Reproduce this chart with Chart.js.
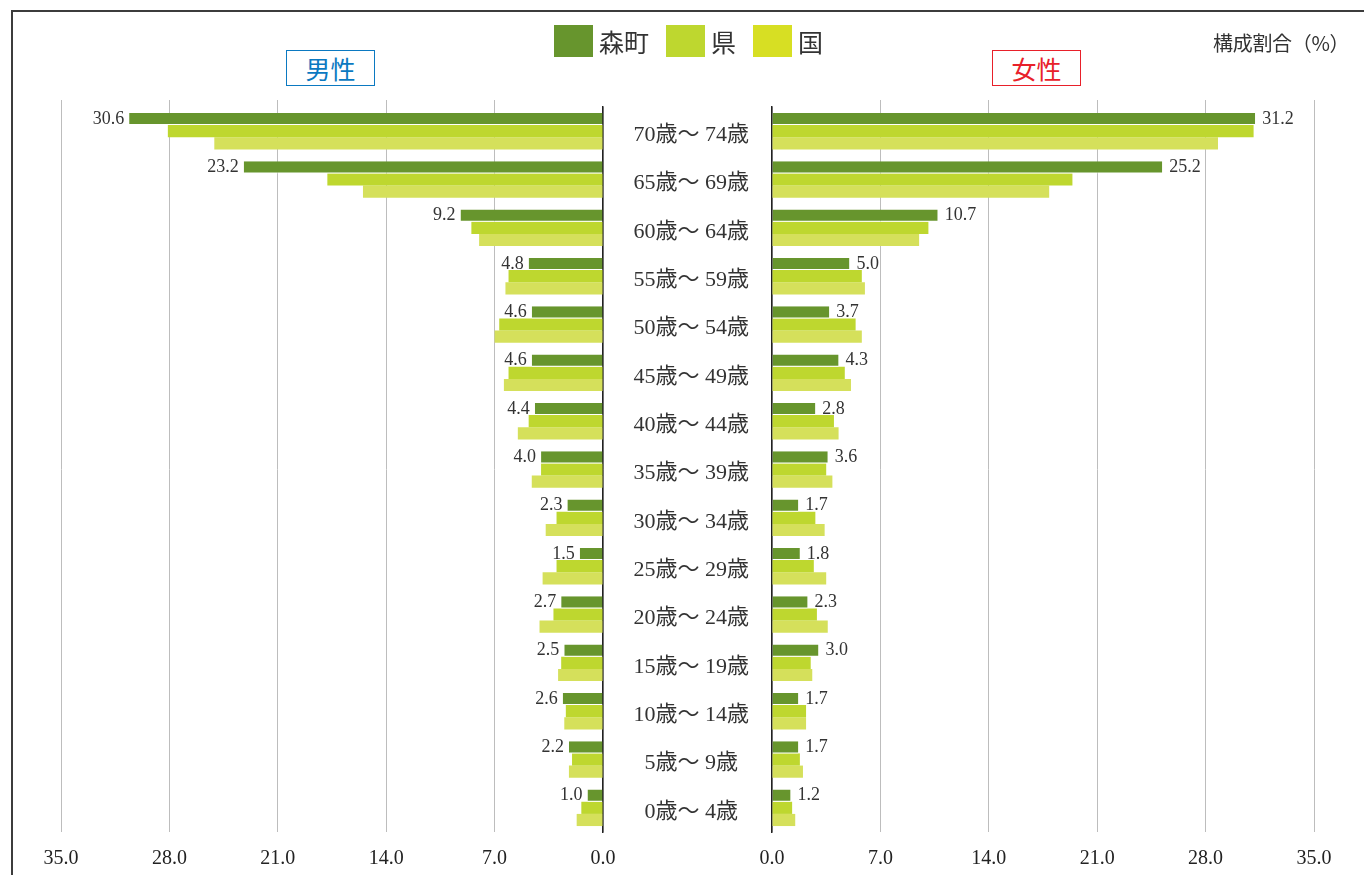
<!DOCTYPE html>
<html lang="ja">
<head>
<meta charset="UTF-8">
<title>年齢別構成割合</title>
<script src="https://cdn.jsdelivr.net/npm/chart.js"></script>
<style>
  body { margin: 0; background: #fff; }
  #page { position: relative; width: 1364px; height: 875px; overflow: hidden; font-family: 'Noto Sans CJK JP', sans-serif; color: #333; }
  #frame { position: absolute; left: 11px; top: 10px; right: -10px; bottom: -10px; border-top: 2px solid #3c3c3c; border-left: 2px solid #3c3c3c; }
  canvas { position: absolute; left: 0; top: 0; }
  .legend { position: absolute; top: 24px; height: 33px; display: flex; align-items: center; font-size: 25px; color: #333; }
  .legend span.sw { display: inline-block; width: 39px; height: 32px; margin-right: 6px; }
  .legend .item { display: flex; align-items: center; margin-right: 17px; }
  .sexbox { position: absolute; top: 50px; width: 87px; height: 34px; font-size: 25px; line-height: 34px; text-align: center; background: #fff; }
  #unit { position: absolute; left: 1213px; top: 28px; font-size: 20px; color: #333; letter-spacing: -0.3px; }
</style>
</head>
<body>
<div id="page">
  <div id="frame"></div>
  <canvas id="maleChart" width="1364" height="875"></canvas>
  <canvas id="femaleChart" width="1364" height="875"></canvas>
  <div class="legend" id="legend" style="left:554px"></div>
  <div class="sexbox" style="left:286px; border:1.5px solid #0b79c1; color:#0b79c1">男性</div>
  <div class="sexbox" style="left:992px; border:1.5px solid #e8202a; color:#e8202a">女性</div>
  <div id="unit">構成割合（%）</div>
</div>
<script>
const ageGroups = ['70歳～ 74歳', '65歳～ 69歳', '60歳～ 64歳', '55歳～ 59歳', '50歳～ 54歳',
  '45歳～ 49歳', '40歳～ 44歳', '35歳～ 39歳', '30歳～ 34歳', '25歳～ 29歳',
  '20歳～ 24歳', '15歳～ 19歳', '10歳～ 14歳', '5歳～ 9歳', '0歳～ 4歳'];

const seriesNames = ['森町', '県', '国'];

// 男性 (%)
const maleTown   = [30.6, 23.2, 9.2, 4.8, 4.6, 4.6, 4.4, 4.0, 2.3, 1.5, 2.7, 2.5, 2.6, 2.2, 1.0];
const malePref   = [28.1, 17.8, 8.5, 6.1, 6.7, 6.1, 4.8, 4.0, 3.0, 3.0, 3.2, 2.7, 2.4, 2.0, 1.4];
const maleNation = [25.1, 15.5, 8.0, 6.3, 7.0, 6.4, 5.5, 4.6, 3.7, 3.9, 4.1, 2.9, 2.5, 2.2, 1.7];

// 女性 (%)
const femaleTown   = [31.2, 25.2, 10.7, 5.0, 3.7, 4.3, 2.8, 3.6, 1.7, 1.8, 2.3, 3.0, 1.7, 1.7, 1.2];
const femalePref   = [31.1, 19.4, 10.1, 5.8, 5.4, 4.7, 4.0, 3.5, 2.8, 2.7, 2.9, 2.5, 2.2, 1.8, 1.3];
const femaleNation = [28.8, 17.9, 9.5, 6.0, 5.8, 5.1, 4.3, 3.9, 3.4, 3.5, 3.6, 2.6, 2.2, 2.0, 1.5];

const axisMax = 35;
const axisStep = 7;

const barColors = ['#67952d', '#bed72f', '#d5e05b'];
const legendColors = ['#67952d', '#bed72f', '#d7df23'];

const serif = "'Liberation Serif', 'Noto Sans CJK JP', serif";
const gridGrey = '#bdbdbd';

// legend
const legendEl = document.getElementById('legend');
seriesNames.forEach((name, i) => {
  const item = document.createElement('div');
  item.className = 'item';
  item.innerHTML = `<span class="sw" style="background:${legendColors[i]}"></span>${name}`;
  legendEl.appendChild(item);
});

// 森町の値だけ棒の先に表示する
const townLabels = {
  id: 'townLabels',
  afterDatasetsDraw(chart, args, opts) {
    const ctx = chart.ctx;
    const meta = chart.getDatasetMeta(0);
    const data = chart.data.datasets[0].data;
    ctx.save();
    ctx.font = `18px ${serif}`;
    ctx.fillStyle = '#333';
    ctx.textBaseline = 'middle';
    ctx.textAlign = opts.side === 'left' ? 'right' : 'left';
    meta.data.forEach((bar, i) => {
      const x = opts.side === 'left' ? bar.x - 5 : bar.x + 7;
      ctx.fillText(data[i].toFixed(1), x, bar.y);
    });
    ctx.restore();
  }
};

function makeDatasets(values) {
  return values.map((v, i) => ({
    label: seriesNames[i],
    data: v,
    backgroundColor: barColors[i],
    borderColor: '#fff',
    borderWidth: i === 0 ? { top: 0, left: 0, right: 0, bottom: 1 } : 0,
    borderSkipped: false,
    categoryPercentage: 0.754,
    barPercentage: 1
  }));
}

function xScales(reverse) {
  const tickColor = c => (c.tick && c.tick.value === 0) ? 'rgba(0,0,0,0)' : gridGrey;
  return {
    x: {
      min: 0, max: axisMax, reverse: reverse,
      grid: { color: gridGrey, lineWidth: 1, drawTicks: false },
      border: { display: false },
      ticks: { stepSize: axisStep, padding: 15, color: '#222', font: { family: serif, size: 20 },
        callback: v => v.toFixed(1) },
      afterFit: s => { s.height = 43; }
    },
    xTop: {
      position: 'top', min: 0, max: axisMax, reverse: reverse,
      grid: { drawOnChartArea: false, tickLength: 7, color: gridGrey, tickColor: tickColor },
      border: { display: false },
      ticks: { display: false, stepSize: axisStep }
    }
  };
}

const common = {
  indexAxis: 'y',
  responsive: false,
  animation: false,
  events: [],
  plugins: { legend: { display: false }, tooltip: { enabled: false } }
};

// 男性 (左、0 が右端)
new Chart(document.getElementById('maleChart'), {
  type: 'bar',
  data: { labels: ageGroups, datasets: makeDatasets([maleTown, malePref, maleNation]) },
  options: {
    ...common,
    layout: { padding: { left: 61, right: 1364 - 603, top: 100, bottom: 0 } },
    scales: {
      ...xScales(true),
      y: {
        position: 'right',
        grid: { display: false, drawTicks: false },
        border: { display: true, color: '#222', width: 1.5 },
        ticks: { display: false },
        afterFit: s => { s.width = 0; }
      }
    },
    plugins: { ...common.plugins, townLabels: { side: 'left' } }
  },
  plugins: [townLabels]
});

// 女性 (右、年齢区分ラベルは左側の軸に出す)
new Chart(document.getElementById('femaleChart'), {
  type: 'bar',
  data: { labels: ageGroups, datasets: makeDatasets([femaleTown, femalePref, femaleNation]) },
  options: {
    ...common,
    layout: { padding: { left: 603, right: 1364 - 1314, top: 100, bottom: 0 } },
    scales: {
      ...xScales(false),
      y: {
        position: 'left',
        grid: { display: false, drawTicks: false },
        border: { display: true, color: '#222', width: 1.5 },
        ticks: { crossAlign: 'center', padding: 23, labelOffset: 4, color: '#333',
          font: { family: serif, size: 22 } },
        afterFit: s => { s.width = 169; }
      }
    },
    plugins: { ...common.plugins, townLabels: { side: 'right' } }
  },
  plugins: [townLabels]
});
</script>
</body>
</html>
